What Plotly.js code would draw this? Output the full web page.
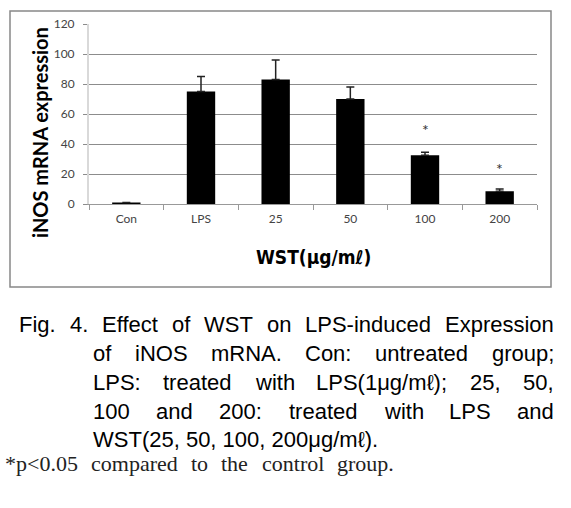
<!DOCTYPE html>
<html>
<head>
<meta charset="utf-8">
<script src="https://cdn.plot.ly/plotly-3.0.1.min.js"></script>
<style>
html,body{margin:0;padding:0;background:#fff;}
#chart{width:571px;height:508px;}
</style>
</head>
<body>
<div id="chart"></div>
<script>
// ---- data ----
const categories = ['Con', 'LPS', '25', '50', '100', '200'];
const expression = [1, 75, 83, 70, 32.5, 8.5];
const errorUpper = [0, 10, 13, 8, 2, 1.5];
const significance = ['', '', '', '', '*', '*'];
const significanceY = [null, null, null, null, 52, 26];

const yTitle = 'iNOS mRNA expression';
const xTitle = 'WST(μg/mℓ)';
const captionLines = [
  'Fig. 4. Effect of WST on LPS-induced Expression',
  'of iNOS mRNA. Con: untreated group;',
  'LPS: treated with LPS(1μg/mℓ); 25, 50,',
  '100 and 200: treated with LPS and',
  'WST(25, 50, 100, 200μg/mℓ).'
];
const footnote = '*p<0.05 compared to the control group.';

// ---- geometry helpers (plot area: x 89..537, y 24..204 px) ----
const PL = 89, PR = 537, PT = 24, PB = 204;
const px2x = px => (px - PL) / (PR - PL);
const py2y = py => (PB - py) / (PB - PT);

const canvas = document.createElement('canvas');
const ctx = canvas.getContext('2d');
function measure(text, size, family) {
  ctx.font = size + 'px ' + family;
  return ctx.measureText(text).width;
}
function esc(s) { return s.replace(/&/g, '&amp;').replace(/</g, '&lt;').replace(/>/g, '&gt;'); }

function wordAnnotations(text, x0, x1, baseline, size, family, color, justify) {
  const anns = [];
  const yc = py2y(baseline - 0.33 * size);
  if (!justify) {
    anns.push({xref: 'paper', yref: 'paper', x: px2x(x0), y: yc, xanchor: 'left', yanchor: 'middle',
      text: esc(text), showarrow: false, borderpad: 0, font: {family: family, size: size, color: color}});
    return anns;
  }
  const words = text.split(' ');
  const widths = words.map(w => measure(w, size, family));
  const total = widths.reduce((a, b) => a + b, 0);
  const gap = (x1 - x0 - total) / (words.length - 1);
  let x = x0;
  words.forEach((w, i) => {
    anns.push({xref: 'paper', yref: 'paper', x: px2x(x), y: yc, xanchor: 'left', yanchor: 'middle',
      text: esc(w), showarrow: false, borderpad: 0, font: {family: family, size: size, color: color}});
    x += widths[i] + gap;
  });
  return anns;
}

const capFamily = "'Liberation Sans', Arial, sans-serif";
const capSize = 22;
const lineStarts = [18, 92, 92, 92, 92];
const lineBaselines = [332, 361, 390, 419, 447];
let annotations = [];
captionLines.forEach((line, i) => {
  annotations = annotations.concat(
    wordAnnotations(line, lineStarts[i], 553, lineBaselines[i], capSize, capFamily, '#000', i < 4));
});
annotations = annotations.concat(
  wordAnnotations(footnote, 4, 393, 471, 22, "'Liberation Serif', 'DejaVu Serif', serif", '#222', true));

// axis titles
annotations.push({xref: 'paper', yref: 'paper', x: px2x(40), y: py2y(133), xanchor: 'center', yanchor: 'middle',
  textangle: -90, text: yTitle, showarrow: false, font: {family: 'Lato, Open Sans, sans-serif', size: 20, color: '#000', weight: 'bold'}});
annotations.push({xref: 'paper', yref: 'paper', x: px2x(313), y: py2y(257), xanchor: 'center', yanchor: 'middle',
  text: xTitle, showarrow: false, font: {family: "'DejaVu Sans Condensed', sans-serif", size: 19, color: '#000', weight: 'bold'}});

// significance marks (category index positions)
categories.forEach((c, i) => {
  if (significance[i]) {
    annotations.push({x: i, y: significanceY[i], xref: 'x', yref: 'y', text: significance[i], showarrow: false,
      yanchor: 'middle', yshift: -3, font: {family: 'Lato, sans-serif', size: 16, color: '#333'}});
  }
});

const trace = {
  type: 'bar',
  x: categories,
  y: expression,
  marker: {color: '#000000', line: {width: 0}},
  error_y: {type: 'data', symmetric: false, array: errorUpper, arrayminus: errorUpper.map(() => 0),
    color: '#222', thickness: 1.5, width: 4},
  hoverinfo: 'none'
};

const layout = {
  width: 571, height: 508,
  margin: {l: PL, r: 571 - PR, t: PT, b: 508 - PB, pad: 0},
  paper_bgcolor: '#fff', plot_bgcolor: '#fff',
  showlegend: false,
  bargap: 0.62,
  xaxis: {
    type: 'category', categoryorder: 'array', categoryarray: categories,
    range: [-0.5, categories.length - 0.5], autorange: false,
    tickson: 'boundaries', ticks: 'outside', ticklen: 5, tickcolor: '#999', tickangle: 0,
    showline: true, linecolor: '#999', linewidth: 1, showgrid: false, zeroline: false,
    tickfont: {family: 'Lato, Open Sans, sans-serif', size: 12, color: '#444'}, ticklabelstandoff: 4
  },
  yaxis: {
    range: [0, 120], autorange: false, dtick: 20, showgrid: true, gridcolor: '#8c8c8c', gridwidth: 1,
    ticks: 'outside', ticklen: 4, tickcolor: '#8c8c8c',
    showline: true, linecolor: '#d9d9d9', linewidth: 2, zeroline: false,
    tickfont: {family: 'Lato, Open Sans, sans-serif', size: 12, color: '#444'}, ticklabelstandoff: 6
  },
  shapes: [{type: 'rect', xref: 'paper', yref: 'paper', layer: 'below',
    x0: px2x(10), x1: px2x(551), y0: py2y(287), y1: py2y(11),
    line: {color: '#888', width: 1.5}, fillcolor: 'rgba(0,0,0,0)'}],
  annotations: annotations
};

Plotly.newPlot('chart', [trace], layout, {displayModeBar: false, staticPlot: true});
</script>
</body>
</html>
